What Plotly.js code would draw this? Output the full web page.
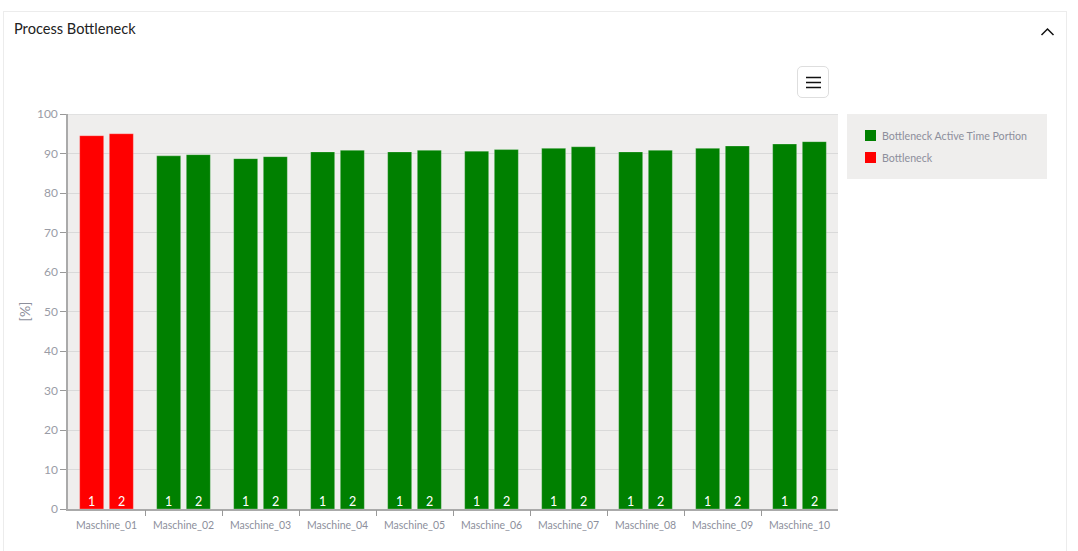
<!DOCTYPE html>
<html>
<head>
<meta charset="utf-8">
<script src="https://cdn.plot.ly/plotly-3.0.1.min.js"></script>
<style>
html,body{margin:0;padding:0;background:#fff;overflow:hidden}
#wrap{position:relative;width:1078px;height:551px}
#card{position:absolute;left:3px;top:11px;width:1064px;height:560px;border:1px solid #ececec;box-sizing:border-box}
#chart{position:absolute;left:0;top:0;width:1078px;height:551px}
#menu{position:absolute;left:797px;top:66px;width:32px;height:32px;border:1px solid #dedede;border-radius:5px;background:#fff;box-sizing:border-box}
#menu svg,#chev{position:absolute}
#legendbox{position:absolute;left:847px;top:114px;width:200px;height:65px;background:#efeeed;font:10.65px Lato,sans-serif;color:#8d8f9c}
.item{position:absolute;left:18px;white-space:nowrap;line-height:12px}
.item i{position:absolute;left:0;top:0;width:11px;height:11px;display:block}
.item span{position:absolute;left:17px;top:0}
</style>
</head>
<body>
<div id="wrap">
<div id="card"></div>
<div id="legendbox">
  <div class="item" id="lg0" style="top:16px"><i></i><span></span></div>
  <div class="item" id="lg1" style="top:38px"><i></i><span></span></div>
</div>
<div id="chart"></div>
<div id="menu"><svg width="30" height="30" style="left:0;top:0"><path d="M8 10.5H23M8 15.5H23M8 20.5H23" stroke="#111" stroke-width="1.6"/></svg></div>
<svg id="chev" width="16" height="10" style="left:1040px;top:27px"><path d="M1.5 8L7.5 2L13.5 8" fill="none" stroke="#111" stroke-width="1.5"/></svg>
</div>
<script>
const machines = ["Maschine_01","Maschine_02","Maschine_03","Maschine_04","Maschine_05","Maschine_06","Maschine_07","Maschine_08","Maschine_09","Maschine_10"];
const greenRun1 = [null,89.4,88.7,90.4,90.4,90.6,91.3,90.4,91.3,92.4];
const greenRun2 = [null,89.7,89.2,90.8,90.8,91.0,91.7,90.8,91.9,93.0];
const redRun1 = [94.5,null,null,null,null,null,null,null,null,null];
const redRun2 = [95.0,null,null,null,null,null,null,null,null,null];
const seriesGreen = "Bottleneck Active Time Portion";
const seriesRed = "Bottleneck";
const colorGreen = "#008000";
const colorRed = "#ff0000";
const yTicks = [0,10,20,30,40,50,60,70,80,90,100];
const separators = [1,2,3,4,5,6,7,8,9];
const runLabels = ["1","2"];
const FONT = "Lato, sans-serif";

[[seriesGreen,colorGreen],[seriesRed,colorRed]].forEach(([n,c],i)=>{
  const el=document.getElementById("lg"+i);
  el.querySelector("i").style.background=c;
  el.querySelector("span").textContent=n;
});

function bar(name, vals, color, group){
  return {type:"bar", x:machines, y:vals, name:name, showlegend:false,
    offsetgroup:group,
    marker:{color:color, line:{color:"rgba(255,255,255,0.25)", width:1}},
    hoverinfo:"x+y+name"};
}
const data = [
  bar(seriesGreen, greenRun1, colorGreen, "1"),
  bar(seriesGreen, greenRun2, colorGreen, "2"),
  bar(seriesRed, redRun1, colorRed, "1"),
  bar(seriesRed, redRun2, colorRed, "2"),
  {type:"scatter", mode:"markers", x:[1], y:[null], xaxis:"x2", yaxis:"y", showlegend:false, hoverinfo:"skip"}
];
const barLabels = machines.flatMap(m => runLabels.map((t,i)=>({
  x:m, xref:"x", y:1.8, yref:"y", yanchor:"middle", text:t, showarrow:false,
  xshift:i===0?-14.8:14.8, font:{color:"#fff", size:12.5, family:FONT}
})));
const layout = {
  width:1078, height:551, autosize:false,
  margin:{l:68,r:240,t:114,b:42,pad:0},
  paper_bgcolor:"rgba(0,0,0,0)", plot_bgcolor:"#efeeed",
  font:{family:FONT, size:11, color:"#8d8f9c"},
  title:{text:"Process Bottleneck", x:14/1078, xanchor:"left", xref:"container", y:1-29/551, yref:"container", yanchor:"middle",
    font:{family:FONT, size:14.6, color:"#222"}},
  barmode:"group", bargap:0.23, bargroupgap:0.19,
  showlegend:false,
  annotations:barLabels,
  shapes:[{type:"line", xref:"x domain", yref:"y", x0:0, x1:1, y0:100, y1:100, line:{color:"#dcdcdc", width:1.5}, layer:"above"}],
  xaxis:{type:"category", categoryarray:machines, ticks:"", ticklabelstandoff:6,
    showline:true, linecolor:"#aaa", linewidth:1.5, showgrid:false, tickfont:{size:10.5, color:"#8d8f9c"}, fixedrange:true},
  xaxis2:{overlaying:"x", anchor:"y", side:"bottom", range:[0,10], tickmode:"array", tickvals:separators, ticktext:separators.map(()=>""),
    ticks:"outside", ticklen:6, tickcolor:"#999", tickwidth:1, showline:false, showgrid:false, zeroline:false, fixedrange:true},
  yaxis:{range:[0,100], tickvals:yTicks, ticktext:yTicks.map(String), ticks:"outside", ticklen:6, tickcolor:"#999", tickwidth:1,
    showline:true, linecolor:"#aaa", linewidth:1.5, gridcolor:"#d9d9d9", gridwidth:1, zeroline:false, fixedrange:true,
    tickfont:{size:12, color:"#9a9ca6"},
    title:{text:"[%]", standoff:3, font:{size:14, color:"#8d8f9c"}}}
};
Plotly.newPlot("chart", data, layout, {displayModeBar:false});
</script>
</body>
</html>
